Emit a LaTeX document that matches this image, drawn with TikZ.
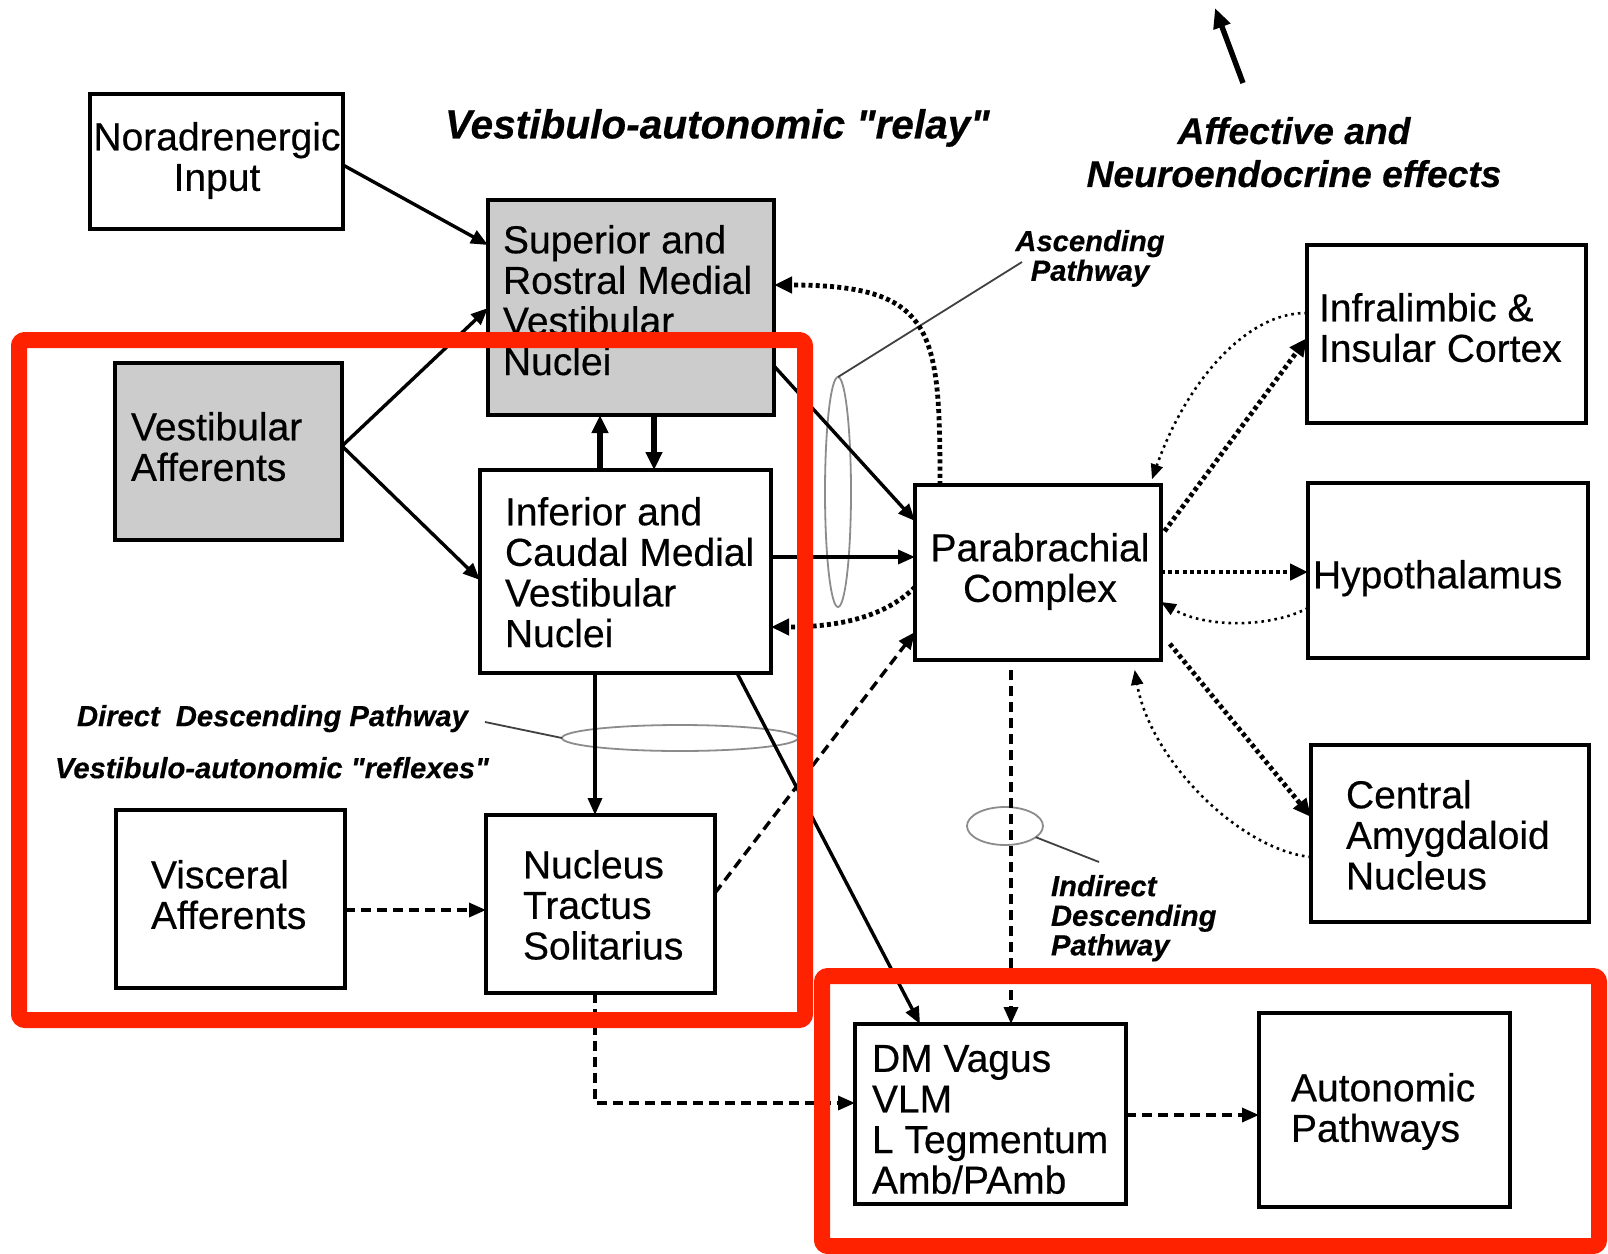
\documentclass[tikz,border=0pt]{standalone}
\usepackage{fontspec}
\setmainfont{Liberation Sans}[Ligatures=TeXOff,FakeBold=0.4]
\usetikzlibrary{arrows.meta,shapes.geometric,fit}
\definecolor{redbox}{RGB}{255,34,0}
\begin{document}
\begin{tikzpicture}[x=0.5pt,y=-0.5pt,
  box/.style={draw,line width=1.7pt,inner sep=0pt,outer sep=0pt,rectangle},
  shbox/.style={box,fill=black!20},
  txt/.style={inner sep=0pt,outer sep=0pt,font=\fontsize{19.5pt}{20.3pt}\selectfont,align=left,anchor=north west},
  lbl/.style={inner sep=0pt,outer sep=0pt,font=\fontsize{14.6pt}{14.8pt}\selectfont\bfseries\itshape,align=left,anchor=north west},
  ttl/.style={inner sep=0pt,outer sep=0pt,font=\fontsize{20.3pt}{21pt}\selectfont\bfseries\itshape,align=left,anchor=north west},
  ttltwo/.style={inner sep=0pt,outer sep=0pt,font=\fontsize{18.6pt}{21.5pt}\selectfont\bfseries\itshape,align=center,anchor=north},
  sol/.style={line width=1.7pt,-{Triangle[length=8.5pt,width=7pt]}},
  thk/.style={line width=2.7pt,-{Triangle[length=9pt,width=8pt]}},
  thktwo/.style={line width=2.7pt,-{Triangle[length=10pt,width=8.5pt]}},
  dsh/.style={line width=1.7pt,dash pattern=on 5pt off 3pt,-{Triangle[length=8.5pt,width=7pt]}},
  dotk/.style={line width=2.4pt,dash pattern=on 2pt off 1.6pt,-{Triangle[length=9pt,width=8pt]}},
  dott/.style={line width=1.3pt,dash pattern=on 1.3pt off 2pt,-{Triangle[length=7.5pt,width=6pt]}},
  ell/.style={draw=black!45,line width=0.9pt,ellipse,inner sep=0pt,outer sep=0pt},
  lead/.style={line width=0.9pt,draw=black!75},
  redb/.style={draw=redbox,line width=8pt,rounded corners=3pt,inner sep=0pt,outer sep=0pt,rectangle}
]
\useasboundingbox (0,0) rectangle (1608,1254);
\fill[white] (0,0) rectangle (1608,1254);

% boxes
\node[box, fit={(90,94)(343,229)}] (nor) {};
\node[txt, anchor=north, align=center] (nort) at (217,122) {Noradrenergic\\Input};
\node[shbox, fit={(488,200)(774,415)}] (srm) {};
\node[txt] (srmt) at (503,225) {Superior and\\Rostral Medial\\Vestibular\\Nuclei};
\node[shbox, fit={(115,363)(342,540)}] (vaf) {};
\node[txt] (vaft) at (131,412) {Vestibular\\Afferents};
\node[box, fit={(480,470)(771,673)}] (icm) {};
\node[txt] (icmt) at (505,497) {Inferior and\\Caudal Medial\\Vestibular\\Nuclei};
\node[box, fit={(116,810)(345,988)}] (vis) {};
\node[txt] (vist) at (151,860) {Visceral\\Afferents};
\node[box, fit={(486,815)(715,993)}] (nts) {};
\node[txt] (ntst) at (523,850) {Nucleus\\Tractus\\Solitarius};
\node[box, fit={(915,485)(1161,660)}] (pbc) {};
\node[txt, anchor=north, align=center] (pbct) at (1040,533) {Parabrachial\\Complex};
\node[box, fit={(1307,245)(1586,423)}] (ilc) {};
\node[txt] (ilct) at (1319,293) {Infralimbic \&\\Insular Cortex};
\node[box, fit={(1308,483)(1588,658)}] (hyp) {};
\node[txt] (hypt) at (1313,560) {Hypothalamus};
\node[box, fit={(1311,745)(1589,922)}] (cea) {};
\node[txt] (ceat) at (1346,780) {Central\\Amygdaloid\\Nucleus};
\node[box, fit={(855,1024)(1126,1204)}] (dmv) {};
\node[txt] (dmvt) at (872,1045) {DM Vagus\\VLM\\L Tegmentum\\Amb/PAmb};
\node[box, fit={(1259,1013)(1510,1207)}] (aut) {};
\node[txt] (autt) at (1291,1073) {Autonomic\\Pathways};

% labels
\node[ttl] (relay) at (445,109) {Vestibulo-autonomic "relay"};
\node[ttltwo] (aff) at (1294,117) {Affective and\\Neuroendocrine effects};
\node[lbl, anchor=north, align=center] (asc) at (1090,230) {Ascending\\Pathway};
\node[lbl] (ddp) at (77,705) {Direct\hspace{0.55em}Descending Pathway};
\node[lbl] (var) at (55,757) {Vestibulo-autonomic "reflexes"};
\node[lbl] (idp) at (1051,875) {Indirect\\Descending\\Pathway};

% ellipses and leaders
\node[ell, minimum width=13pt, minimum height=115pt] (ea) at (838,492) {};
\node[ell, minimum width=118pt, minimum height=13pt] (ed) at (680,738) {};
\node[ell, minimum width=38pt, minimum height=19pt] (ei) at (1005,826) {};
\coordinate (ascl) at (1022,262);
\coordinate (ddpl) at (485,722);
\coordinate (idpl) at (1099,862);
\draw[lead] (ea.north) -- (ascl);
\draw[lead] (ddpl) -- (ed.west);
\draw[lead] (ei.-20) -- (idpl);

% connectors
\draw[sol] (nor.east |- 0,165) -- (srm.west |- 0,245);
\draw[sol] (vaf.east |- 0,446) -- (srm.west |- 0,308);
\draw[sol] (vaf.east |- 0,446) -- (icm.west |- 0,580);
\draw[thk] (icm.north -| 600,0) -- (srm.south -| 600,0);
\draw[thk] (srm.south -| 654,0) -- (icm.north -| 654,0);
\draw[sol] (srm.east |- 0,366) -- (pbc.west |- 0,521);
\draw[sol] (icm.east |- 0,557) -- (pbc.west |- 0,557);
\draw[dotk] (pbc.west |- 0,587) .. controls (890,612) and (850,627) .. (icm.east |- 0,627);
\draw[dotk] (pbc.north -| 940,0) .. controls (940,330) and (935,285) .. (srm.east |- 0,285);
\draw[dsh] (nts.east |- 0,893) -- (pbc.west |- 0,632);
\draw[dsh] (vis.east |- 0,910) -- (nts.west |- 0,910);
\draw[sol] (icm.south -| 737,0) -- (dmv.north -| 920,0);
\draw[sol] (icm.south -| 595,0) -- (nts.north -| 595,0);
\draw[dsh] (nts.south -| 595,0) |- (dmv.west |- 0,1103);
\draw[dsh, shorten <=5pt] (pbc.south -| 1011,0) -- (dmv.north -| 1011,0);
\draw[dsh] (dmv.east |- 0,1115) -- (aut.west |- 0,1115);
\draw[dotk] (pbc.east |- 0,572) -- (hyp.west |- 0,572);
\draw[dott] (hyp.west |- 0,608) .. controls (1270,628) and (1205,628) .. (pbc.east |- 0,602);
\draw[dotk, shorten <=3pt] (pbc.east |- 0,536) -- (ilc.west |- 0,338);
\draw[dott, shorten >=3pt] (ilc.west |- 0,313) .. controls (1245,312) and (1185,385) .. (pbc.north -| 1150,0);
\draw[dotk, shorten <=7pt] (pbc.east |- 0,633) -- (cea.west |- 0,817);
\draw[dott, shorten >=5pt] (cea.west |- 0,857) .. controls (1240,850) and (1150,760) .. (pbc.south -| 1133,0);

% free arrow at top
\coordinate (upa) at (1243,83);
\coordinate (upb) at (1215,8);
\draw[thktwo] (upa) -- (upb);

% red highlight frames
\node[redb, fit={(19,340)(805,1020)}] (hlone) {};
\node[redb, fit={(822,976)(1599,1246)}] (hltwo) {};
\end{tikzpicture}
\end{document}
